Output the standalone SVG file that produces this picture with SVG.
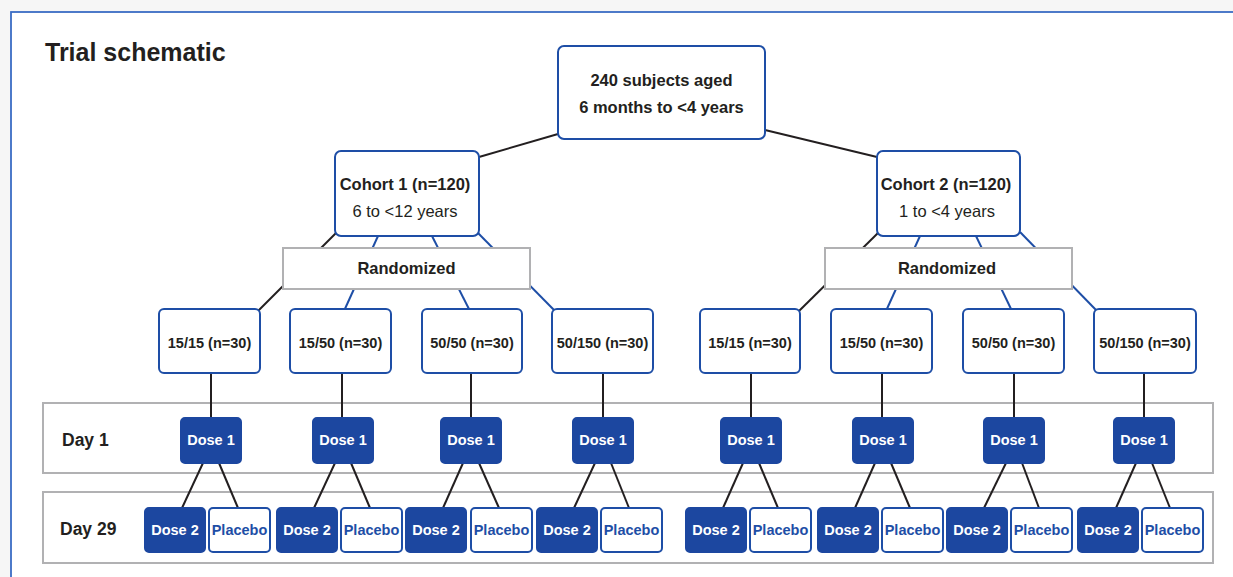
<svg xmlns="http://www.w3.org/2000/svg" width="1233" height="577" viewBox="0 0 1233 577">
<defs>
<style>
text{font-family:"Liberation Sans",Arial,sans-serif;fill:#231f20;text-anchor:middle}
.b{font-weight:bold}
.box{fill:#fff;stroke:#1e4ea6;stroke-width:2}
.dose{fill:#1c47a0;stroke:#1c47a0;stroke-width:2}
.rand{fill:#fff;stroke:#b1b1b3;stroke-width:2}
.band{fill:none;stroke:#b1b1b3;stroke-width:2}
.k{stroke:#231f20;stroke-width:2;fill:none}
.bl{stroke:#1e4ea6;stroke-width:2;fill:none}
.w{fill:#fff;font-weight:bold;font-size:14.5px}
.pl{fill:#1e4ea6;font-weight:bold;font-size:14.5px}
.g{font-weight:bold;font-size:14.5px}
</style>
</defs>
<rect x="0" y="0" width="1233" height="577" fill="#fff"/>
<rect x="0" y="0" width="1233" height="11" fill="#f6f6f6"/>
<rect x="0" y="0" width="10" height="577" fill="#f6f6f6"/>
<rect id="frame" x="11" y="12" width="1240" height="600" fill="#fff" stroke="#3a6cc4" stroke-width="1.8"/>
<text x="45" y="61" class="b" font-size="25" style="text-anchor:start">Trial schematic</text>

<g id="bands">
<rect class="band" x="43" y="403" width="1170" height="70"/>
<rect class="band" x="43" y="492" width="1170" height="71"/>
<text x="62" y="446" class="b" font-size="17.5" style="text-anchor:start">Day 1</text>
<text x="60" y="535" class="b" font-size="17.5" style="text-anchor:start">Day 29</text>
</g>

<g id="connectors">
<line class="k" x1="558" y1="134" x2="479" y2="157"/>
<line class="k" x1="765" y1="130" x2="877" y2="157"/>
<line class="k" x1="337" y1="232" x2="258" y2="311"/>
<line class="bl" x1="378" y1="236" x2="344" y2="311"/>
<line class="bl" x1="432" y1="236" x2="470" y2="311"/>
<line class="bl" x1="477" y1="232" x2="555" y2="311"/>
<line class="k" x1="879" y1="232" x2="799" y2="311"/>
<line class="bl" x1="920" y1="236" x2="886" y2="311"/>
<line class="bl" x1="976" y1="236" x2="1012" y2="311"/>
<line class="bl" x1="1020" y1="232" x2="1097" y2="311"/>
<line class="k" x1="211" y1="373" x2="211" y2="418"/>
<line class="k" x1="342" y1="373" x2="342" y2="418"/>
<line class="k" x1="471" y1="373" x2="471" y2="418"/>
<line class="k" x1="603" y1="373" x2="603" y2="418"/>
<line class="k" x1="751" y1="373" x2="751" y2="418"/>
<line class="k" x1="882" y1="373" x2="882" y2="418"/>
<line class="k" x1="1014" y1="373" x2="1014" y2="418"/>
<line class="k" x1="1144" y1="373" x2="1144" y2="418"/>
<line class="k" x1="203" y1="463" x2="182" y2="508"/><line class="k" x1="219" y1="463" x2="238" y2="508"/>
<line class="k" x1="335" y1="463" x2="314" y2="508"/><line class="k" x1="351" y1="463" x2="370" y2="508"/>
<line class="k" x1="463" y1="463" x2="443" y2="508"/><line class="k" x1="479" y1="463" x2="499" y2="508"/>
<line class="k" x1="595" y1="463" x2="574" y2="508"/><line class="k" x1="611" y1="463" x2="629" y2="508"/>
<line class="k" x1="743" y1="463" x2="723" y2="508"/><line class="k" x1="759" y1="463" x2="778" y2="508"/>
<line class="k" x1="875" y1="463" x2="855" y2="508"/><line class="k" x1="891" y1="463" x2="910" y2="508"/>
<line class="k" x1="1006" y1="463" x2="984" y2="508"/><line class="k" x1="1022" y1="463" x2="1039" y2="508"/>
<line class="k" x1="1136" y1="463" x2="1116" y2="508"/><line class="k" x1="1152" y1="463" x2="1170" y2="508"/>
</g>

<g id="top">
<rect class="box" x="558" y="46" width="207" height="93" rx="6"/>
<text x="661.5" y="86" class="b" font-size="16.5">240 subjects aged</text>
<text x="661.5" y="113" class="b" font-size="16.5">6 months to &lt;4 years</text>
</g>
<g id="cohort1">
<rect class="box" x="335" y="151" width="144" height="85" rx="6"/>
<text x="405" y="190" class="b" font-size="16.5">Cohort 1 (n=120)</text>
<text x="405" y="217" font-size="16.5">6 to &lt;12 years</text>
</g>
<g id="cohort2">
<rect class="box" x="877" y="151" width="143" height="85" rx="6"/>
<text x="946" y="190" class="b" font-size="16.5">Cohort 2 (n=120)</text>
<text x="947" y="217" font-size="16.5">1 to &lt;4 years</text>
</g>
<g id="rand1">
<rect class="rand" x="283" y="248" width="247" height="41"/>
<text x="406.5" y="274" class="b" font-size="16.5">Randomized</text>
</g>
<g id="rand2">
<rect class="rand" x="825" y="248" width="247" height="41"/>
<text x="947" y="274" class="b" font-size="16.5">Randomized</text>
</g>

<g id="c1g1"><rect class="box" x="159" y="309" width="101" height="64" rx="5"/><text x="209.5" y="348" class="g">15/15 (n=30)</text></g>
<g id="c1g2"><rect class="box" x="290" y="309" width="101" height="64" rx="5"/><text x="340.5" y="348" class="g">15/50 (n=30)</text></g>
<g id="c1g3"><rect class="box" x="422" y="309" width="100" height="64" rx="5"/><text x="472" y="348" class="g">50/50 (n=30)</text></g>
<g id="c1g4"><rect class="box" x="552" y="309" width="101" height="64" rx="5"/><text x="602.5" y="348" class="g">50/150 (n=30)</text></g>
<g id="c2g1"><rect class="box" x="700" y="309" width="100" height="64" rx="5"/><text x="750" y="348" class="g">15/15 (n=30)</text></g>
<g id="c2g2"><rect class="box" x="831" y="309" width="101" height="64" rx="5"/><text x="881.5" y="348" class="g">15/50 (n=30)</text></g>
<g id="c2g3"><rect class="box" x="963" y="309" width="101" height="64" rx="5"/><text x="1013.5" y="348" class="g">50/50 (n=30)</text></g>
<g id="c2g4"><rect class="box" x="1094" y="309" width="102" height="64" rx="5"/><text x="1145" y="348" class="g">50/150 (n=30)</text></g>

<g id="d1_1"><rect class="dose" x="181" y="418" width="60" height="45" rx="4"/><text x="211" y="445" class="w">Dose 1</text></g>
<g id="d1_2"><rect class="dose" x="313" y="418" width="60" height="45" rx="4"/><text x="343" y="445" class="w">Dose 1</text></g>
<g id="d1_3"><rect class="dose" x="441" y="418" width="60" height="45" rx="4"/><text x="471" y="445" class="w">Dose 1</text></g>
<g id="d1_4"><rect class="dose" x="573" y="418" width="60" height="45" rx="4"/><text x="603" y="445" class="w">Dose 1</text></g>
<g id="d1_5"><rect class="dose" x="721" y="418" width="60" height="45" rx="4"/><text x="751" y="445" class="w">Dose 1</text></g>
<g id="d1_6"><rect class="dose" x="853" y="418" width="60" height="45" rx="4"/><text x="883" y="445" class="w">Dose 1</text></g>
<g id="d1_7"><rect class="dose" x="984" y="418" width="60" height="45" rx="4"/><text x="1014" y="445" class="w">Dose 1</text></g>
<g id="d1_8"><rect class="dose" x="1114" y="418" width="60" height="45" rx="4"/><text x="1144" y="445" class="w">Dose 1</text></g>

<g id="p1"><rect class="dose" x="145" y="508" width="60" height="44" rx="4"/><text x="175" y="535" class="w">Dose 2</text><rect class="box" x="209" y="508" width="61" height="44" rx="4"/><text x="239.5" y="535" class="pl">Placebo</text></g>
<g id="p2"><rect class="dose" x="277" y="508" width="60" height="44" rx="4"/><text x="307" y="535" class="w">Dose 2</text><rect class="box" x="341" y="508" width="61" height="44" rx="4"/><text x="371.5" y="535" class="pl">Placebo</text></g>
<g id="p3"><rect class="dose" x="406" y="508" width="60" height="44" rx="4"/><text x="436" y="535" class="w">Dose 2</text><rect class="box" x="471" y="508" width="61" height="44" rx="4"/><text x="501.5" y="535" class="pl">Placebo</text></g>
<g id="p4"><rect class="dose" x="537" y="508" width="60" height="44" rx="4"/><text x="567" y="535" class="w">Dose 2</text><rect class="box" x="601" y="508" width="61" height="44" rx="4"/><text x="631.5" y="535" class="pl">Placebo</text></g>
<g id="p5"><rect class="dose" x="686" y="508" width="60" height="44" rx="4"/><text x="716" y="535" class="w">Dose 2</text><rect class="box" x="750" y="508" width="61" height="44" rx="4"/><text x="780.5" y="535" class="pl">Placebo</text></g>
<g id="p6"><rect class="dose" x="818" y="508" width="60" height="44" rx="4"/><text x="848" y="535" class="w">Dose 2</text><rect class="box" x="882" y="508" width="61" height="44" rx="4"/><text x="912.5" y="535" class="pl">Placebo</text></g>
<g id="p7"><rect class="dose" x="947" y="508" width="60" height="44" rx="4"/><text x="977" y="535" class="w">Dose 2</text><rect class="box" x="1011" y="508" width="61" height="44" rx="4"/><text x="1041.5" y="535" class="pl">Placebo</text></g>
<g id="p8"><rect class="dose" x="1078" y="508" width="60" height="44" rx="4"/><text x="1108" y="535" class="w">Dose 2</text><rect class="box" x="1142" y="508" width="61" height="44" rx="4"/><text x="1172.5" y="535" class="pl">Placebo</text></g>
</svg>
